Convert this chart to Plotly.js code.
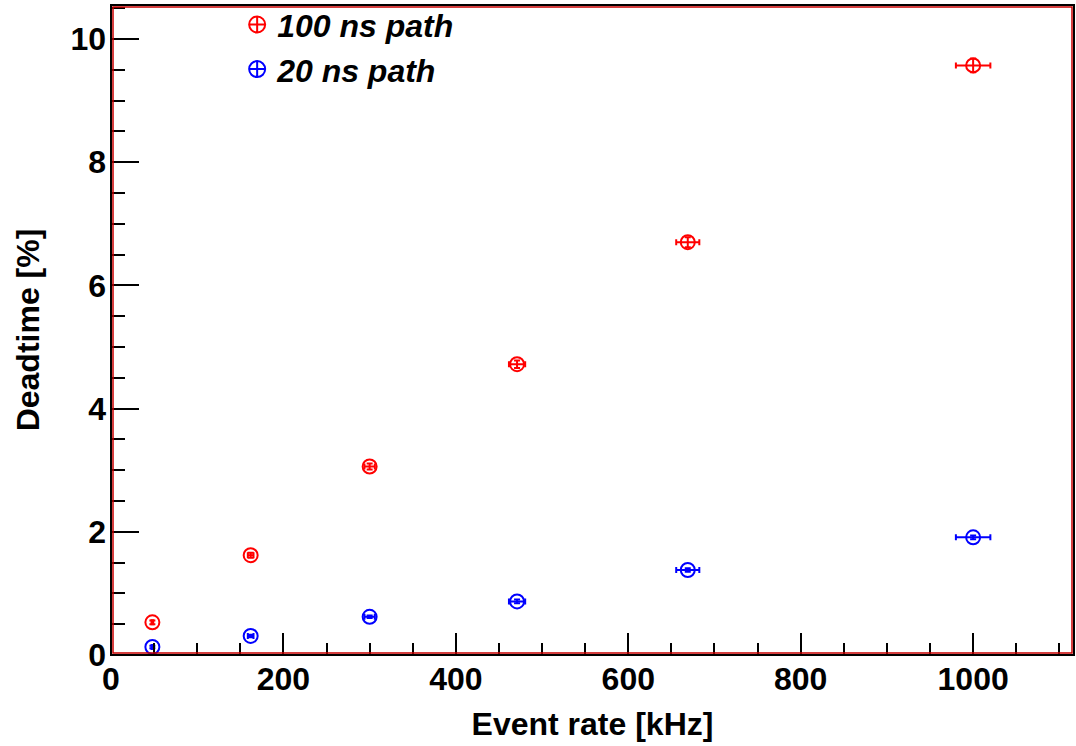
<!DOCTYPE html>
<html>
<head>
<meta charset="utf-8">
<script src="https://cdn.plot.ly/plotly-3.0.1.min.js"></script>
<style>
  html, body { margin: 0; padding: 0; background: #ffffff; }
  #plot { width: 1076px; height: 746px; }
</style>
</head>
<body>
<div id="plot"></div>
<script>
// Event rate [kHz] for each measurement point
const rateKHz = [48, 162, 300, 471, 669, 1000];
const rateErr = [1, 3.3, 6, 9.4, 13.4, 20];

// Deadtime [%] measured on the 100 ns path
const dead100 = [0.53, 1.62, 3.06, 4.72, 6.70, 9.57];
const dead100Err = [0.03, 0.04, 0.05, 0.06, 0.08, 0.11];

// Deadtime [%] measured on the 20 ns path
const dead20 = [0.13, 0.31, 0.62, 0.87, 1.38, 1.91];
const dead20Err = [0.02, 0.02, 0.02, 0.03, 0.03, 0.03];

const seriesNames = ['100 ns path', '20 ns path'];
const seriesColors = ['#ff0000', '#0000ff'];

const FONT = 'Liberation Sans, Arial, Helvetica, sans-serif';
const FS = 32;

function pointsTrace(y, yErr, color) {
  return {
    type: 'scatter',
    mode: 'markers',
    x: rateKHz,
    y: y,
    showlegend: false,
    marker: { symbol: 'circle-open', size: 14, color: color, line: { width: 2, color: color } },
    error_x: { type: 'data', array: rateErr, visible: true, color: color, thickness: 2, width: 3 },
    error_y: { type: 'data', array: yErr, visible: true, color: color, thickness: 2, width: 3 },
    hoverinfo: 'x+y'
  };
}

// legend entries drawn with a crossed circle
function legendTrace(name, color) {
  return {
    type: 'scatter',
    mode: 'markers',
    x: [null],
    y: [null],
    name: name,
    showlegend: true,
    marker: { symbol: 'circle-cross-open', size: 16, color: color, line: { width: 2, color: color } }
  };
}

const data = [
  pointsTrace(dead100, dead100Err, seriesColors[0]),
  pointsTrace(dead20, dead20Err, seriesColors[1]),
  legendTrace(seriesNames[0], seriesColors[0]),
  legendTrace(seriesNames[1], seriesColors[1])
];

const dx = 2 / 963, dy = 2 / 650;

const layout = {
  width: 1076,
  height: 746,
  margin: { l: 111, r: 2, t: 5, b: 91, autoexpand: false },
  paper_bgcolor: '#ffffff',
  plot_bgcolor: '#ffffff',
  font: { family: FONT, size: FS, color: '#000000', weight: 'bold' },
  showlegend: true,
  legend: {
    x: 0.131, y: 1.012, xanchor: 'left', yanchor: 'top',
    bgcolor: 'rgba(0,0,0,0)', borderwidth: 0,
    font: { family: FONT, size: FS, color: '#000000', weight: 'bold', style: 'italic' },
    itemwidth: 30, tracegroupgap: 0
  },
  xaxis: {
    range: [0, 1117],
    dtick: 200, tick0: 0,
    ticks: 'inside', ticklen: 22, tickwidth: 2, tickcolor: '#000000',
    minor: { dtick: 50, ticks: 'inside', ticklen: 12, tickwidth: 2, tickcolor: '#000000', showgrid: false },
    showgrid: false, zeroline: false, showline: false,
    tickfont: { family: FONT, size: FS, weight: 'bold' },
    ticklabelstandoff: 2,
    title: { text: 'Event rate [kHz]', font: { family: FONT, size: FS, weight: 'bold' }, standoff: 16 },
    automargin: false
  },
  yaxis: {
    range: [0, 10.55],
    dtick: 2, tick0: 0,
    ticks: 'inside', ticklen: 28, tickwidth: 2, tickcolor: '#000000',
    minor: { dtick: 0.5, ticks: 'inside', ticklen: 14, tickwidth: 2, tickcolor: '#000000', showgrid: false },
    showgrid: false, zeroline: false, showline: false,
    tickfont: { family: FONT, size: FS, weight: 'bold' },
    ticklabelstandoff: 4,
    title: { text: 'Deadtime [%]', font: { family: FONT, size: FS, weight: 'bold' }, standoff: 21 },
    automargin: false
  },
  shapes: [
    { type: 'rect', xref: 'paper', yref: 'paper', x0: 0, x1: 1, y0: 0, y1: 1,
      line: { color: '#000000', width: 2 }, layer: 'above' },
    { type: 'rect', xref: 'paper', yref: 'paper', x0: dx, x1: 1 - dx, y0: dy, y1: 1 - dy,
      line: { color: '#c80000', width: 1.5 }, layer: 'above' }
  ]
};

Plotly.newPlot('plot', data, layout, { displayModeBar: false, staticPlot: true });
</script>
</body>
</html>
